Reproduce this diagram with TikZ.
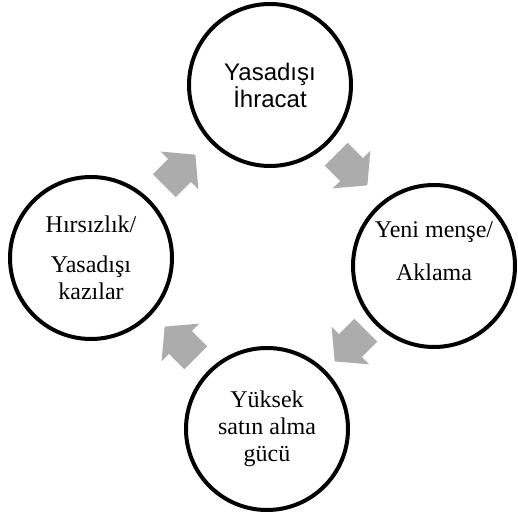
\documentclass[tikz,border=0pt]{standalone}
\usepackage{fontspec}
\setmainfont{Liberation Serif}
\newfontfamily\headfont{Liberation Sans}
\usepackage{tikz}
\usetikzlibrary{shapes.arrows}

\begin{document}
\begin{tikzpicture}[x=1pt, y=1pt]
    \tikzstyle{cycle state}=[
        draw = black,
        line width = 4pt,
        fill = white,
        minimum size = 162pt,
        inner sep = 0pt,
        align = center,
        circle,
        font = \fontsize{24}{27}\selectfont
    ]
    \tikzstyle{flow arrow}=[
        single arrow,
        fill = gray!65,
        draw = none,
        minimum height = 44pt,
        single arrow head extend = 10.5pt,
        single arrow tip angle = 100,
        inner xsep = 0pt,
        inner ysep = 16pt
    ]

    \useasboundingbox (0, 0) rectangle (517, 518);

	\node[cycle state] (i) at (270, 433) {\headfont\fontsize{24}{24}\selectfont Yasadışı\\ \headfont\fontsize{24}{24}\selectfont İhracat};
	\node[cycle state, text depth=30pt] (m) at (434, 252) {Yeni menşe/\\[16pt]Aklama};
	\node[cycle state] (g) at (267, 89)  {Yüksek\\satın alma\\gücü};
	\node[cycle state] (h) at (91, 260)  {Hırsızlık/\\[13pt]Yasadışı\\kazılar};

	\node[flow arrow, rotate=45]   (hi) at (175, 343) {};
	\node[flow arrow, rotate=-45]  (im) at (347, 353) {};
	\node[flow arrow, rotate=-135] (mg) at (355, 177) {};
	\node[flow arrow, rotate=135]  (gh) at (185, 171) {};

\end{tikzpicture}
\end{document}
